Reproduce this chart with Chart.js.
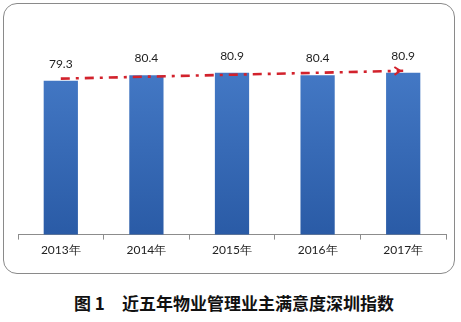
<!DOCTYPE html>
<html>
<head>
<meta charset="utf-8">
<script src="https://cdn.jsdelivr.net/npm/chart.js@4"></script>
<style>
  body { margin: 0; background: #fff; }
  #wrap { position: relative; width: 461px; height: 322px; overflow: hidden; }
  #frame {
    position: absolute; left: 3px; top: 3px; width: 450px; height: 269px;
    border: 1.5px solid #8a8a8a; border-radius: 14px;
  }
  #chart { position: absolute; left: 0; top: 0; }
  #caption {
    position: absolute; left: 74px; top: 290px; line-height: 22px;
    font: bold 17px "Noto Sans CJK SC", sans-serif; color: #111; white-space: pre;
  }
</style>
</head>
<body>
<div id="wrap">
  <div id="frame"></div>
  <canvas id="chart" width="461" height="280"></canvas>
  <div id="caption">图 1　近五年物业管理业主满意度深圳指数</div>
</div>
<script>
const years = ['2013年', '2014年', '2015年', '2016年', '2017年'];
const scores = [79.3, 80.4, 80.9, 80.4, 80.9];
// red dash-dot trend arrow, read at each year
const trend = [79.7, 80.1, 80.5, 80.9, 81.3];

const RED = '#d2222c';

function barFill(context) {
  const area = context.chart.chartArea;
  if (!area) return '#3a6fbf';
  const g = context.chart.ctx.createLinearGradient(0, area.top, 0, area.bottom);
  g.addColorStop(0, '#4a80cd');
  g.addColorStop(1, '#2a5ba6');
  return g;
}

const extras = {
  id: 'extras',
  afterDatasetsDraw(chart) {
    const ctx = chart.ctx;
    const bars = chart.getDatasetMeta(0).data;
    ctx.save();
    ctx.font = '12px Lato, sans-serif';
    ctx.fillStyle = '#1e1e1e';
    ctx.textAlign = 'center';
    ctx.textBaseline = 'middle';
    bars.forEach((b, i) => ctx.fillText(scores[i].toFixed(1), b.x, b.y - 17));

    // open arrowhead at the end of the trend line
    const pts = chart.getDatasetMeta(1).data;
    const a = pts[pts.length - 2], b = pts[pts.length - 1];
    const ang = Math.atan2(b.y - a.y, b.x - a.x);
    const tipX = b.x - 3, tipY = b.y;
    ctx.strokeStyle = RED;
    ctx.lineWidth = 2;
    ctx.beginPath();
    ctx.moveTo(tipX - 7 * Math.cos(ang - 0.6), tipY - 7 * Math.sin(ang - 0.6));
    ctx.lineTo(tipX, tipY);
    ctx.lineTo(tipX - 7 * Math.cos(ang + 0.6), tipY - 7 * Math.sin(ang + 0.6));
    ctx.stroke();
    ctx.restore();
  }
};

new Chart(document.getElementById('chart'), {
  data: {
    labels: years,
    datasets: [
      {
        type: 'bar',
        data: scores,
        backgroundColor: barFill,
        categoryPercentage: 1,
        barPercentage: 0.4,
        order: 1
      },
      {
        type: 'line',
        data: trend,
        borderColor: RED,
        borderWidth: 2.6,
        borderDash: [9, 6, 3, 6],
        pointRadius: 0,
        tension: 0,
        order: 0
      }
    ]
  },
  options: {
    responsive: false,
    animation: false,
    layout: { padding: { left: 18, right: 15, top: 28, bottom: 20 } },
    plugins: { legend: { display: false }, tooltip: { enabled: false } },
    scales: {
      x: {
        grid: { offset: true, drawOnChartArea: false, tickLength: 5, color: '#8c8c8c' },
        border: { color: '#8c8c8c' },
        ticks: { font: { family: 'Lato', size: 12 }, color: '#222', padding: 3 }
      },
      y: { display: false, min: 48, max: 90 }
    }
  },
  plugins: [extras]
});
</script>
</body>
</html>
